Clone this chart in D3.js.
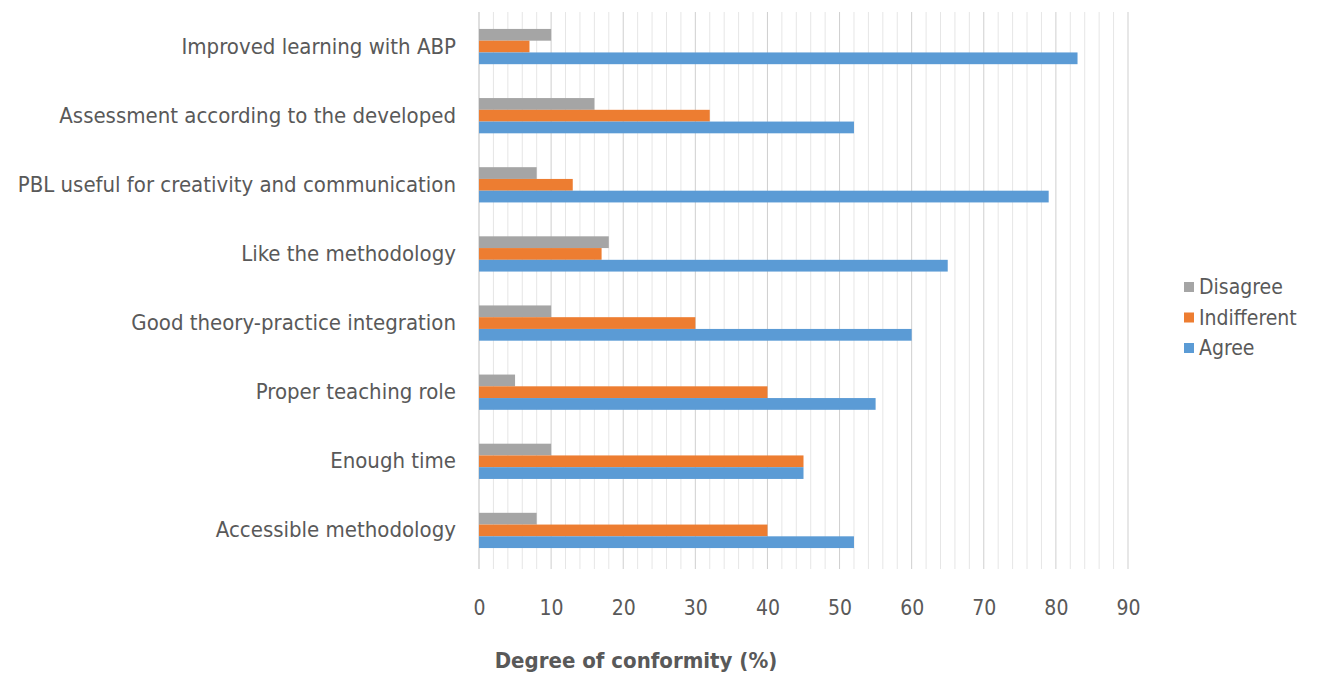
<!DOCTYPE html>
<html>
<head>
<meta charset="utf-8">
<script src="https://cdn.jsdelivr.net/npm/d3@7"></script>
<style>
  body { margin: 0; background: #fff; }
  text { font-family: "Liberation Sans Narrow", "DejaVu Sans Condensed", sans-serif; fill: #595959; }
</style>
</head>
<body>
<div class="container"></div>
<script>
// chart data
var categories = [
    "Improved learning with ABP",
    "Assessment according to the developed",
    "PBL useful for creativity and communication",
    "Like the methodology",
    "Good theory-practice integration",
    "Proper teaching role",
    "Enough time",
    "Accessible methodology"
];
var seriesNames = ["Disagree", "Indifferent", "Agree"];
var disagree    = [10, 16, 8, 18, 10, 5, 10, 8];
var indifferent = [7, 32, 13, 17, 30, 40, 45, 40];
var agree       = [83, 52, 79, 65, 60, 55, 45, 52];
var xTicks = [0, 10, 20, 30, 40, 50, 60, 70, 80, 90];
var colors = ["#a5a5a5", "#ed7d31", "#5b9bd5"];

function drawChart() {
    var margin = { top: 12, right: 195, bottom: 104, left: 479 }
        , width = 1323 - margin.left - margin.right
        , height = 673 - margin.top - margin.bottom;

    var svg = d3.select(".container").append("svg")
        .attr("width", 1323)
        .attr("height", 673);

    var g = svg.append("g")
        .attr("transform", "translate(" + margin.left + "," + margin.top + ")");

    var x = d3.scaleLinear()
        .domain([0, 90])
        .range([0, 649]);

    var y = d3.scaleBand()
        .domain(categories)
        .range([0, 553])
        .paddingInner(0.49)
        .paddingOuter(0.245);

    var ySeries = d3.scaleBand()
        .domain(seriesNames)
        .range([0, y.bandwidth()]);

    // minor grid every 2, major every 10
    g.append("g")
        .selectAll("line")
        .data(d3.range(2, 91, 2).filter(function (d) { return d % 10 != 0; }))
        .enter()
        .append("line")
        .attr("x1", function (d) { return x(d); })
        .attr("x2", function (d) { return x(d); })
        .attr("y1", 0)
        .attr("y2", height)
        .attr("stroke", "#e6e6e6")
        .attr("stroke-width", 1);

    g.append("g")
        .selectAll("line")
        .data(xTicks)
        .enter()
        .append("line")
        .attr("x1", function (d) { return x(d); })
        .attr("x2", function (d) { return x(d); })
        .attr("y1", 0)
        .attr("y2", height)
        .attr("stroke", function (d) { return d == 0 ? "#bfbfbf" : "#cfcfcf"; })
        .attr("stroke-width", 1);

    var rows = categories.map(function (c, i) {
        return { cat: c, values: [disagree[i], indifferent[i], agree[i]] };
    });

    var groups = g.append("g")
        .selectAll("g")
        .data(rows)
        .enter()
        .append("g")
        .attr("transform", function (d) { return "translate(0," + y(d.cat) + ")"; });

    groups.selectAll("rect")
        .data(function (d) {
            return d.values.map(function (v, j) { return { name: seriesNames[j], value: v, idx: j }; });
        })
        .enter()
        .append("rect")
        .attr("x", x(0))
        .attr("y", function (d) { return ySeries(d.name); })
        .attr("width", function (d) { return x(d.value) - x(0); })
        .attr("height", ySeries.bandwidth())
        .attr("fill", function (d) { return colors[d.idx]; });

    // category labels
    var yAxis = g.append("g")
        .call(d3.axisLeft(y).tickSize(0).tickPadding(23));
    yAxis.select(".domain").remove();
    yAxis.selectAll("text")
        .style("font-size", "22px")
        .attr("fill", "#595959");

    // x tick labels
    var xAxis = g.append("g")
        .attr("transform", "translate(0," + height + ")")
        .call(d3.axisBottom(x).tickValues(xTicks).tickSize(0).tickPadding(31));
    xAxis.select(".domain").remove();
    xAxis.selectAll("text")
        .style("font-size", "21px")
        .attr("fill", "#595959");

    svg.append("text")
        .attr("x", 636)
        .attr("y", 668)
        .attr("text-anchor", "middle")
        .style("font-size", "22px")
        .style("font-weight", "bold")
        .text("Degree of conformity (%)");

    // legend
    var legend = svg.append("g")
        .attr("transform", "translate(1184,287)");

    var item = legend.selectAll("g")
        .data(seriesNames)
        .enter()
        .append("g")
        .attr("transform", function (d, i) { return "translate(0," + (i * 30.5) + ")"; });

    item.append("rect")
        .attr("x", 0)
        .attr("y", -5)
        .attr("width", 10)
        .attr("height", 10)
        .attr("fill", function (d, i) { return colors[i]; });

    item.append("text")
        .attr("x", 15)
        .attr("y", 0)
        .attr("dy", "0.35em")
        .style("font-size", "21px")
        .text(function (d) { return d; });
}

drawChart();
</script>
</body>
</html>
